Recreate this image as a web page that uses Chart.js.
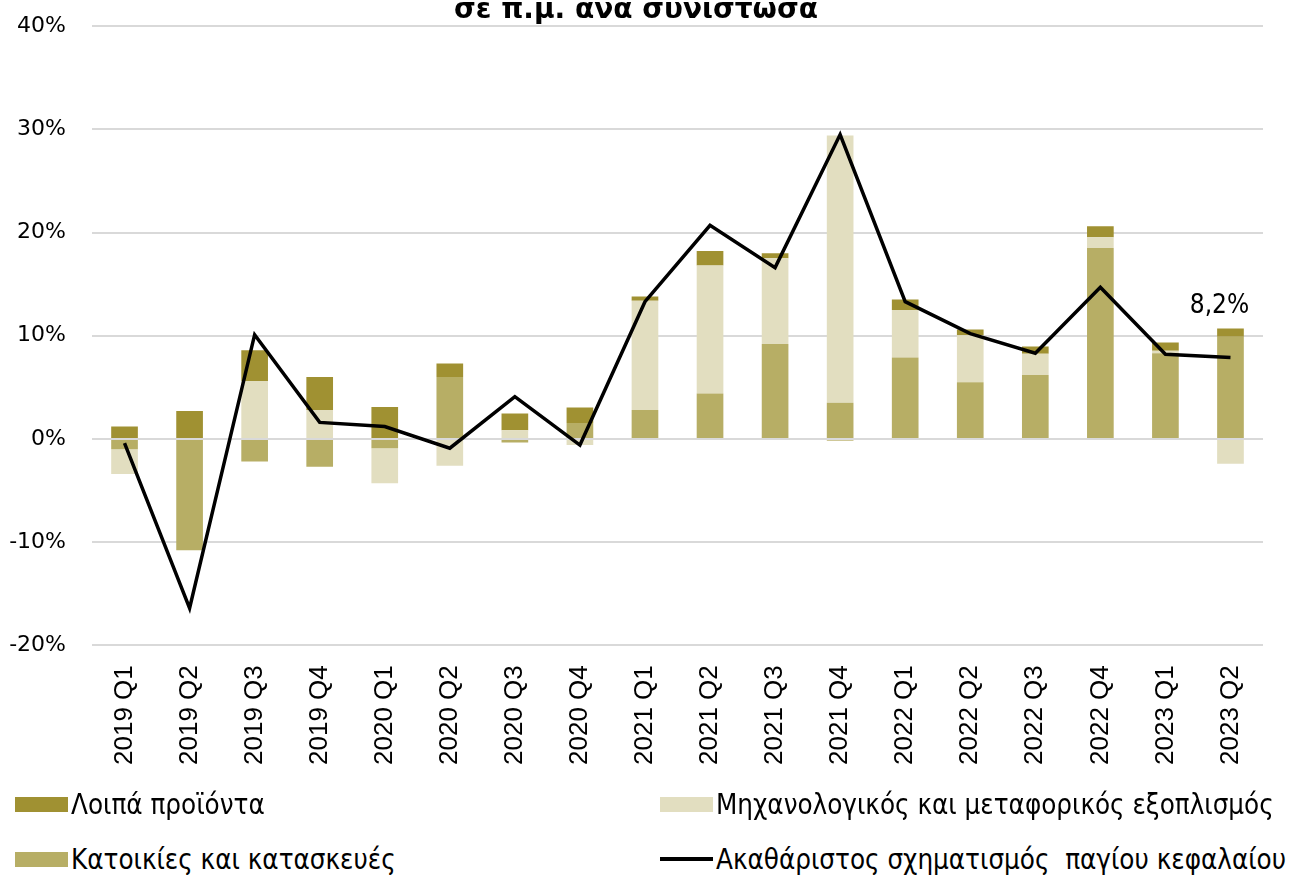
<!DOCTYPE html>
<html>
<head>
<meta charset="utf-8">
<script src="https://cdn.jsdelivr.net/npm/chart.js@4"></script>
<style>
    body { margin: 0; background: #fff; width: 1289px; height: 875px; overflow: hidden; position: relative; }
    #wrap { position: absolute; left: 0; top: -13px; width: 1289px; height: 802px; }
    .leg { position: absolute; display: flex; align-items: center; font-family: "DejaVu Sans Condensed", "DejaVu Sans", sans-serif; font-stretch: condensed; font-size: 27.5px; color: #000; white-space: pre; }
    .leg .box { width: 53px; height: 15px; margin-right: 3px; }
    .leg .ln { width: 53px; height: 4px; margin-right: 3px; }
</style>
</head>
<body>
<div id="wrap"><canvas id="graphique"></canvas></div>
<div id="legende"></div>
<script>
const categories = ["2019 Q1", "2019 Q2", "2019 Q3", "2019 Q4", "2020 Q1", "2020 Q2", "2020 Q3", "2020 Q4",
    "2021 Q1", "2021 Q2", "2021 Q3", "2021 Q4", "2022 Q1", "2022 Q2", "2022 Q3", "2022 Q4", "2023 Q1", "2023 Q2"];

const kataskeves = [-1.0, -10.8, -2.2, -2.7, -0.9, 6.0, -0.35, 1.55, 2.8, 4.4, 9.2, 3.5, 7.9, 5.5, 6.2, 18.5, 8.3, 9.9];
const mixanologikos = [-2.4, 0, 5.6, 2.8, -3.4, -2.6, 0.85, -0.6, 10.6, 12.4, 8.3, 25.9, 4.6, 4.55, 2.05, 1.05, 0.25, -2.4];
const loipa = [1.2, 2.7, 3.0, 3.2, 3.1, 1.3, 1.6, 1.5, 0.4, 1.4, 0.5, -0.15, 1.0, 0.55, 0.7, 1.05, 0.8, 0.8];
const synolo = [-0.4, -16.4, 10.1, 1.6, 1.2, -0.9, 4.1, -0.6, 13.3, 20.7, 16.6, 29.5, 13.3, 10.2, 8.3, 14.7, 8.2, 7.9];

const titre = "σε π.μ. ανά συνιστώσα";
const etiquetteFin = "8,2%";
const yMin = -20;
const yMax = 40;
const yPas = 10;

const couleurFonce = "#A09132";
const couleurMoyen = "#B7AE65";
const couleurClair = "#E2DEC0";

// petit plugin pour l'etiquette au dessus du dernier point
const etiquettePlugin = {
    id: "etiquetteFin",
    afterDatasetsDraw(chart) {
        const meta = chart.getDatasetMeta(3);
        const pt = meta.data[meta.data.length - 1];
        const ctx = chart.ctx;
        ctx.save();
        ctx.font = "26px 'DejaVu Sans Condensed', 'DejaVu Sans', sans-serif";
        ctx.fillStyle = "#000";
        ctx.textAlign = "center";
        ctx.textBaseline = "middle";
        ctx.fillText(etiquetteFin, pt.x - 11, pt.y - 51);
        ctx.restore();
    }
};

const ctx = document.getElementById("graphique");
const chart = new Chart(ctx, {
    type: "bar",
    data: {
        labels: categories,
        datasets: [{
            label: "Κατοικίες και κατασκευές",
            data: kataskeves,
            backgroundColor: couleurMoyen,
            order: 1
        }, {
            label: "Μηχανολογικός και μεταφορικός εξοπλισμός",
            data: mixanologikos,
            backgroundColor: couleurClair,
            order: 1
        }, {
            label: "Λοιπά προϊόντα",
            data: loipa,
            backgroundColor: couleurFonce,
            order: 1
        }, {
            type: "line",
            label: "Ακαθάριστος σχηματισμός  παγίου κεφαλαίου",
            data: synolo,
            borderColor: "#000",
            borderWidth: 3.5,
            pointRadius: 0,
            tension: 0,
            order: 0
        }]
    },
    options: {
        responsive: true,
        maintainAspectRatio: false,
        animation: false,
        datasets: {
            bar: {
                barPercentage: 0.41,
                categoryPercentage: 1
            }
        },
        layout: {
            padding: { left: 9, right: 26, top: 0, bottom: 4 }
        },
        plugins: {
            legend: { display: false },
            tooltip: { enabled: false },
            title: {
                display: true,
                text: titre,
                color: "#000",
                font: { family: "'DejaVu Sans', sans-serif", size: 28, weight: "bold", lineHeight: 1 },
                padding: { top: 0, bottom: 1 }
            }
        },
        scales: {
            x: {
                stacked: true,
                grid: { display: false, drawTicks: false },
                border: { display: false },
                ticks: {
                    color: "#000",
                    font: { family: "'Liberation Sans', Arial, sans-serif", size: 26 },
                    minRotation: 90,
                    maxRotation: 90,
                    padding: 20,
                    autoSkip: false
                }
            },
            y: {
                stacked: true,
                min: yMin,
                max: yMax,
                grid: { color: "#D9D9D9", lineWidth: 2, drawTicks: false },
                border: { display: false },
                afterFit: function(scale) {
                    scale.width = 83;
                },
                ticks: {
                    stepSize: yPas,
                    color: "#000",
                    padding: 26,
                    font: { family: "'DejaVu Sans', sans-serif", size: 22 },
                    callback: function(v) { return v + "%"; }
                }
            }
        }
    },
    plugins: [etiquettePlugin]
});

// legende en deux colonnes
const legendeItems = [
    { ds: 2, x: 15, y: 804 },
    { ds: 1, x: 660, y: 804 },
    { ds: 0, x: 15, y: 859 },
    { ds: 3, x: 660, y: 859 }
];
const legende = document.getElementById("legende");
legendeItems.forEach(function(item) {
    const ds = chart.data.datasets[item.ds];
    const div = document.createElement("div");
    div.className = "leg";
    div.style.left = item.x + "px";
    div.style.top = (item.y - 17) + "px";
    div.style.height = "34px";
    const sym = document.createElement("span");
    if (ds.type === "line") {
        sym.className = "ln";
        sym.style.background = ds.borderColor;
    } else {
        sym.className = "box";
        sym.style.background = ds.backgroundColor;
    }
    const txt = document.createElement("span");
    txt.textContent = ds.label;
    div.appendChild(sym);
    div.appendChild(txt);
    legende.appendChild(div);
});
</script>
</body>
</html>
